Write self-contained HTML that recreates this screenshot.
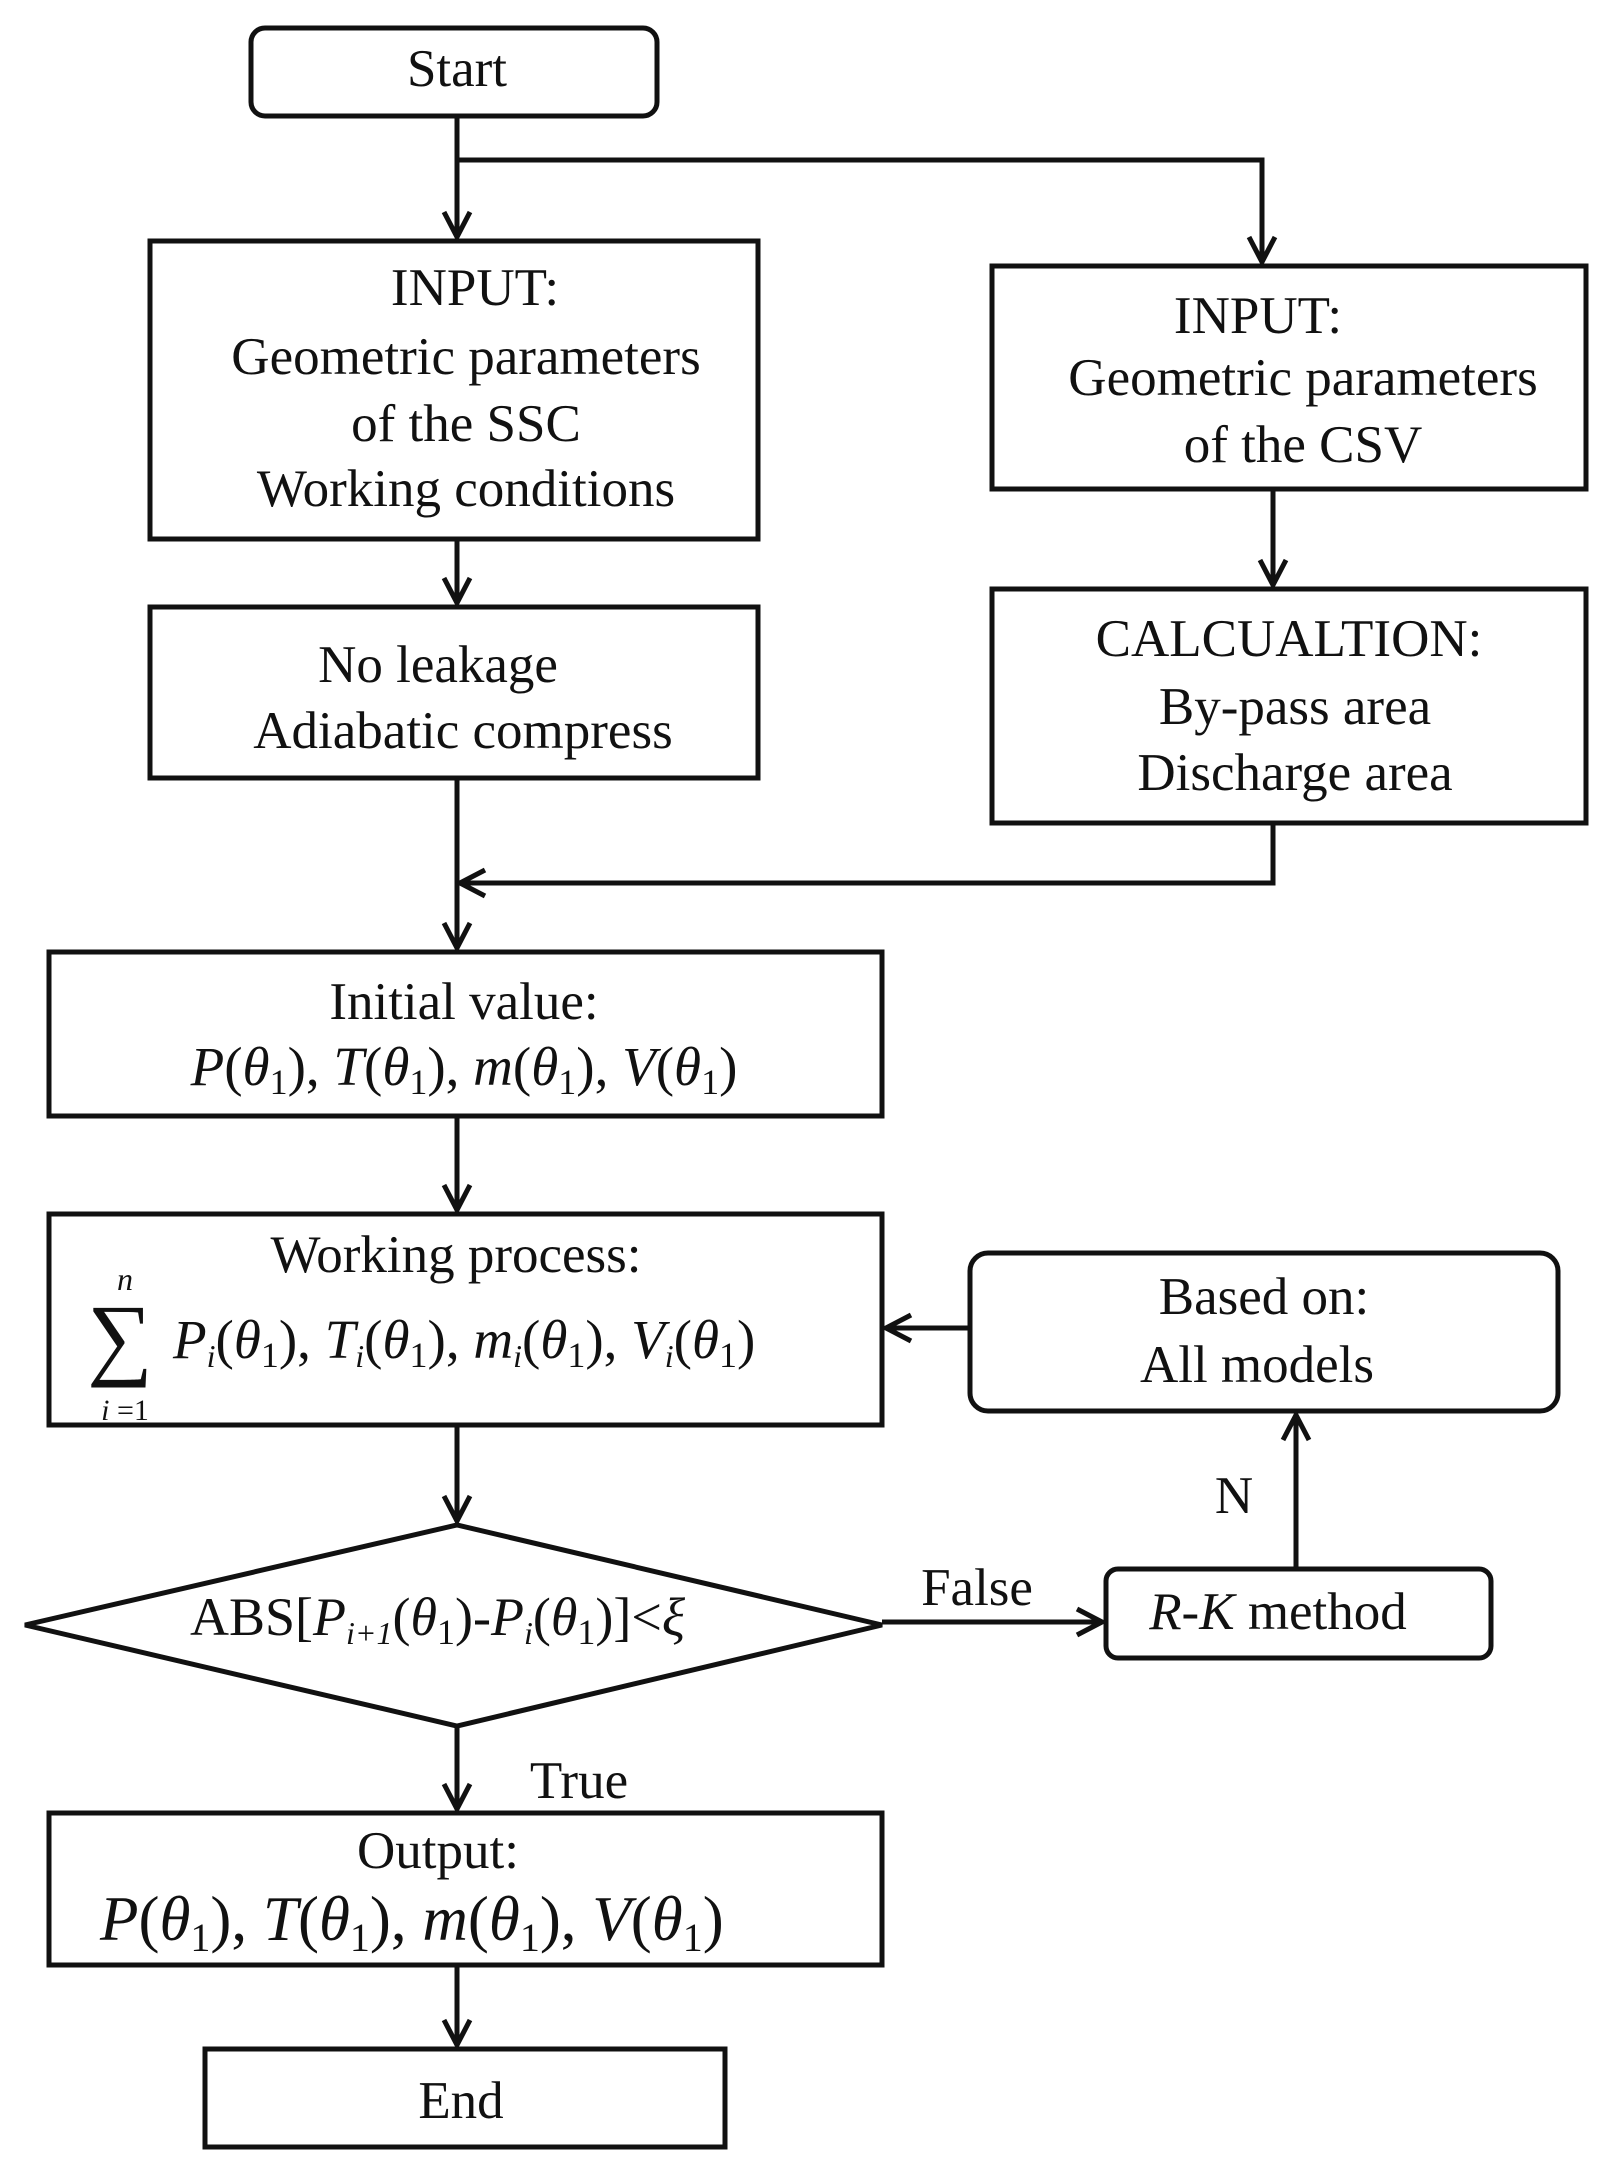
<!DOCTYPE html>
<html><head><meta charset="utf-8"><style>html,body{margin:0;padding:0;background:#fff}svg{display:block}</style></head>
<body>
<svg width="1608" height="2163" viewBox="0 0 1608 2163" xmlns="http://www.w3.org/2000/svg" font-family="'Liberation Serif', serif" font-size="53" fill="#111">
<g stroke="#111" stroke-width="5" fill="none">
<rect x="251" y="28" width="406" height="88" rx="14"/>
<rect x="150" y="241" width="608" height="298"/>
<rect x="992" y="266" width="594" height="223"/>
<rect x="992" y="589" width="594" height="234"/>
<rect x="150" y="607" width="608" height="171"/>
<rect x="49" y="952" width="833" height="164"/>
<rect x="49" y="1214" width="833" height="211"/>
<rect x="970" y="1253" width="588" height="158" rx="18"/>
<polygon points="25,1625 457,1525 882,1625 457,1726"/>
<rect x="1106" y="1569" width="385" height="89" rx="12"/>
<rect x="49" y="1813" width="833" height="152"/>
<rect x="205" y="2049" width="520" height="98"/>
<path d="M457 116 V237 M457 160 H1262 V262 M1273 489 V585 M457 539 V603 M457 778 V948 M1273 823 V883 H460 M457 1116 V1210 M970 1328 H886 M457 1425 V1521 M882 1622 H1102 M1296 1569 V1415 M457 1726 V1809 M457 1965 V2045"/>
<path d="M444 212 L457 237 L470 212 M1249 237 L1262 262 L1275 237 M1260 560 L1273 585 L1286 560 M444 578 L457 603 L470 578 M444 923 L457 948 L470 923 M485 870 L460 883 L485 896 M444 1185 L457 1210 L470 1185 M911 1315 L886 1328 L911 1341 M444 1496 L457 1521 L470 1496 M1077 1609 L1102 1622 L1077 1635 M1283 1440 L1296 1415 L1309 1440 M444 1784 L457 1809 L470 1784 M444 2020 L457 2045 L470 2020"/>
</g>
<g text-anchor="middle">
<text x="457" y="86">Start</text>
<text x="475" y="305">INPUT:</text>
<text x="466" y="374">Geometric  parameters</text>
<text x="466" y="441">of the SSC</text>
<text x="466" y="506">Working conditions</text>
<text x="1258" y="333">INPUT:</text>
<text x="1303" y="395">Geometric  parameters</text>
<text x="1303" y="462">of the CSV</text>
<text x="1289" y="656">CALCUALTION:</text>
<text x="1295" y="724">By-pass area</text>
<text x="1295" y="790">Discharge area</text>
<text x="438" y="682">No leakage</text>
<text x="463" y="748">Adiabatic compress</text>
<text x="464" y="1019">Initial value:</text>
<text x="456" y="1272">Working process:</text>
<text x="1264" y="1314">Based on:</text>
<text x="1257" y="1382">All models</text>
<text x="1234" y="1513">N</text>
<text x="977" y="1605">False</text>
<text x="579" y="1798">True</text>
<text x="438" y="1868">Output:</text>
<text x="1278" y="1629"><tspan font-style="italic">R-K</tspan> method</text>
<text x="461" y="2118">End</text>
</g>
<text x="464" y="1085" text-anchor="middle" font-size="55"><tspan font-style="italic">P</tspan>(<tspan font-style="italic">θ</tspan><tspan font-size="36" dy="9">1</tspan><tspan dy="-9">), </tspan><tspan font-style="italic">T</tspan>(<tspan font-style="italic">θ</tspan><tspan font-size="36" dy="9">1</tspan><tspan dy="-9">), </tspan><tspan font-style="italic">m</tspan>(<tspan font-style="italic">θ</tspan><tspan font-size="36" dy="9">1</tspan><tspan dy="-9">), </tspan><tspan font-style="italic">V</tspan>(<tspan font-style="italic">θ</tspan><tspan font-size="36" dy="9">1</tspan><tspan dy="-9">)</tspan></text>
<text x="125" y="1290" font-size="32" font-style="italic" text-anchor="middle">n</text>
<text x="120" y="1368" font-size="92" text-anchor="middle">∑</text>
<text x="125" y="1420" font-size="30" text-anchor="middle"><tspan font-style="italic">i</tspan> =1</text>
<text x="173" y="1358" font-size="55"><tspan font-style="italic">P</tspan><tspan font-style="italic" font-size="32" dy="9">i</tspan><tspan dy="-9">(</tspan><tspan font-style="italic">θ</tspan><tspan font-size="36" dy="9">1</tspan><tspan dy="-9">), </tspan><tspan font-style="italic">T</tspan><tspan font-style="italic" font-size="32" dy="9">i</tspan><tspan dy="-9">(</tspan><tspan font-style="italic">θ</tspan><tspan font-size="36" dy="9">1</tspan><tspan dy="-9">), </tspan><tspan font-style="italic">m</tspan><tspan font-style="italic" font-size="32" dy="9">i</tspan><tspan dy="-9">(</tspan><tspan font-style="italic">θ</tspan><tspan font-size="36" dy="9">1</tspan><tspan dy="-9">), </tspan><tspan font-style="italic">V</tspan><tspan font-style="italic" font-size="32" dy="9">i</tspan><tspan dy="-9">(</tspan><tspan font-style="italic">θ</tspan><tspan font-size="36" dy="9">1</tspan><tspan dy="-9">)</tspan></text>
<text x="190" y="1635" font-size="54">ABS[<tspan font-style="italic">P</tspan><tspan font-style="italic" font-size="32" dy="9">i+1</tspan><tspan dy="-9">(</tspan><tspan font-style="italic">θ</tspan><tspan font-size="36" dy="9">1</tspan><tspan dy="-9">)-</tspan><tspan font-style="italic">P</tspan><tspan font-style="italic" font-size="32" dy="9">i</tspan><tspan dy="-9">(</tspan><tspan font-style="italic">θ</tspan><tspan font-size="36" dy="9">1</tspan><tspan dy="-9">)]&lt;</tspan><tspan font-style="italic">ξ</tspan></text>
<text x="100" y="1940" font-size="63"><tspan font-style="italic">P</tspan>(<tspan font-style="italic">θ</tspan><tspan font-size="40" dy="11">1</tspan><tspan dy="-11">), </tspan><tspan font-style="italic">T</tspan>(<tspan font-style="italic">θ</tspan><tspan font-size="40" dy="11">1</tspan><tspan dy="-11">), </tspan><tspan font-style="italic">m</tspan>(<tspan font-style="italic">θ</tspan><tspan font-size="40" dy="11">1</tspan><tspan dy="-11">), </tspan><tspan font-style="italic">V</tspan>(<tspan font-style="italic">θ</tspan><tspan font-size="40" dy="11">1</tspan><tspan dy="-11">)</tspan></text>
</svg>
</body></html>
